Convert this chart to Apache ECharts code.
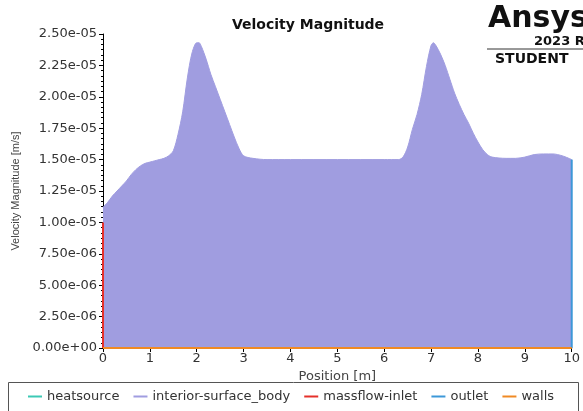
<!DOCTYPE html>
<html>
<head>
<meta charset="utf-8">
<script src="https://cdn.jsdelivr.net/npm/echarts@6/dist/echarts.min.js"></script>
<style>html,body{margin:0;padding:0;background:#fff}#c{width:583px;height:411px}</style>
</head>
<body>
<div id="c"></div>
<script>
// Positions along the body [m]
const positions = [0,0.1,0.2,0.3,0.4,0.5,0.6,0.7,0.8,0.9,1.0,1.1,1.2,1.3,1.4,1.5,1.6,1.7,1.8,1.9,2.0,2.05,2.1,2.2,2.3,2.4,2.5,2.6,2.7,2.8,2.9,3.0,3.2,3.5,4.0,5.0,6.0,6.3,6.4,6.5,6.6,6.7,6.8,6.9,7.0,7.05,7.1,7.2,7.3,7.4,7.5,7.6,7.7,7.8,7.9,8.0,8.1,8.2,8.3,8.6,8.8,9.0,9.2,9.4,9.6,9.8,10.0];
// Velocity magnitude on interior-surface_body [x1e-5 m/s]
const interiorVel = [1.12,1.16,1.21,1.25,1.29,1.33,1.38,1.42,1.45,1.47,1.48,1.49,1.50,1.51,1.53,1.57,1.70,1.88,2.15,2.35,2.43,2.43,2.40,2.30,2.18,2.08,1.98,1.88,1.78,1.68,1.59,1.53,1.51,1.50,1.50,1.50,1.50,1.50,1.52,1.60,1.74,1.86,2.02,2.24,2.41,2.43,2.41,2.34,2.25,2.14,2.03,1.94,1.86,1.79,1.71,1.64,1.58,1.54,1.52,1.51,1.51,1.52,1.54,1.545,1.545,1.53,1.50];
const inletPos = [0,0];
const inletVel = [0,1.0];
const outletPos = [10,10];
const outletVel = [0,1.5];
const wallsPos = [0,10];
const wallsVel = [0,0];
const SCALE = 1e-5;
const yTicks = {min:0, max:2.5e-5, interval:0.25e-5};
const xTicks = {min:0, max:10, interval:1};

function pairs(xs, ys){ return xs.map((x,i)=>[x, ys[i]*SCALE]); }
function fmt(v){
  if (Math.abs(v) < 1e-12) return '0.00e+00';
  let s = Number(v.toPrecision(6)).toExponential(2);
  return s.replace(/e([+-])(\d)$/, 'e$10$2');
}
const FONT = 'DejaVu Sans';
const chart = echarts.init(document.getElementById('c'));
chart.setOption({
  animation:false,
  title:{text:'Velocity Magnitude', left:227, top:13, textStyle:{fontFamily:FONT, fontSize:14, fontWeight:'bold', color:'#111'}},
  grid:{left:103, right:10, top:34, bottom:63},
  legend:{
    data:['heatsource','interior-surface_body','massflow-inlet','outlet','walls'],
    left:28, top:390,
    padding:0,
    itemWidth:14, itemHeight:2, itemGap:14, icon:'rect',
    textStyle:{fontFamily:FONT, fontSize:13, color:'#333'}
  },
  xAxis:{
    type:'value', min:xTicks.min, max:xTicks.max, interval:xTicks.interval,
    name:'Position [m]', nameLocation:'middle', nameGap:22,
    nameTextStyle:{fontFamily:FONT, fontSize:13, color:'#444'},
    axisLine:{lineStyle:{color:'#000'}},
    axisTick:{show:true, length:4, lineStyle:{color:'#000'}},
    axisLabel:{fontFamily:FONT, fontSize:13, color:'#333', margin:4},
    splitLine:{show:false}
  },
  yAxis:{
    type:'value', min:yTicks.min, max:yTicks.max, interval:yTicks.interval,
    name:'Velocity Magnitude [m/s]', nameLocation:'middle', nameGap:76,
    nameTextStyle:{fontFamily:'Liberation Sans', fontSize:11, color:'#444'},
    axisLine:{show:true, lineStyle:{color:'#000'}},
    axisTick:{show:true, length:4, lineStyle:{color:'#000'}},
    minorTick:{show:true, splitNumber:6, length:2, lineStyle:{color:'#000'}},
    axisLabel:{fontFamily:FONT, fontSize:13, color:'#333', margin:6, formatter:fmt},
    splitLine:{show:false}
  },
  series:[
    {name:'heatsource', type:'line', data:[], color:'#3cc9b5', symbol:'none'},
    {name:'interior-surface_body', type:'line', data:pairs(positions, interiorVel), color:'#a09de0',
     symbol:'none', smooth:0.3, lineStyle:{width:1, color:'#a09de0'}, areaStyle:{color:'#a09de0', opacity:1}},
    {name:'massflow-inlet', type:'line', data:pairs(inletPos, inletVel), color:'#e5302a', symbol:'none', lineStyle:{width:2}, z:5},
    {name:'outlet', type:'line', data:pairs(outletPos, outletVel), color:'#3d98d8', symbol:'none', lineStyle:{width:2}, z:5},
    {name:'walls', type:'line', data:pairs(wallsPos, wallsVel), color:'#f08a24', symbol:'none', lineStyle:{width:2}, z:5}
  ],
  graphic:[
    {type:'rect', shape:{x:8.5, y:382.5, width:570, height:40}, style:{fill:'none', stroke:'#555', lineWidth:1}},
    {type:'text', left:488, top:4, style:{text:'Ansys', fontFamily:FONT, fontSize:30, fontWeight:'bold', fill:'#111'}},
    {type:'text', left:534, top:35, style:{text:'2023 R1', fontFamily:FONT, fontSize:13, fontWeight:'bold', fill:'#111'}},
    {type:'line', shape:{x1:487, y1:49, x2:583, y2:49}, style:{stroke:'#333', lineWidth:1}},
    {type:'text', left:495, top:52, style:{text:'STUDENT', fontFamily:FONT, fontSize:14, fontWeight:'bold', fill:'#111'}}
  ]
});
</script>
</body>
</html>
